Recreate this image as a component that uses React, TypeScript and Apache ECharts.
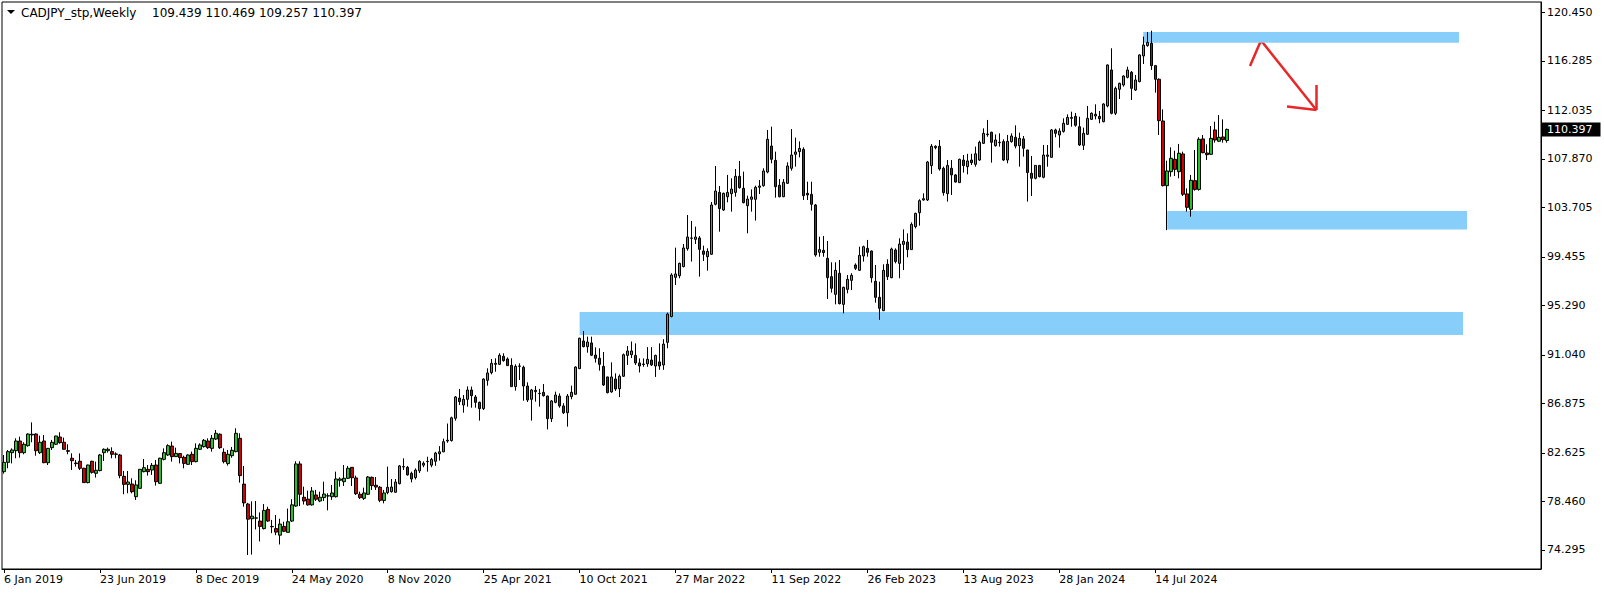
import React, { useEffect, useRef } from "react";
import * as echarts from "echarts";

// ---- chart data -------------------------------------------------------
const SYMBOL_TITLE = "CADJPY_stp,Weekly";
const TITLE_VALUES = "109.439 110.469 109.257 110.397";
const FIRST_WEEK_UTC = Date.UTC(2019, 0, 6);
const FUTURE_WEEKS = 78; // empty "chart shift" area on the right
const X_LABEL_EVERY = 24;
const MONTHS = ["Jan", "Feb", "Mar", "Apr", "May", "Jun", "Jul", "Aug", "Sep", "Oct", "Nov", "Dec"];
const Y_TICKS = [74.295, 78.46, 82.625, 86.875, 91.04, 95.29, 99.455, 103.705, 107.87, 112.035, 116.285, 120.45];
const Y_MIN = 72.664;
const Y_MAX = 121.334;

// weekly candles: [open, high, low, close]
const OHLC: number[][] = [
  [81.02, 82.45, 80.85, 81.82], [81.82, 82.88, 81.31, 82.74], [82.65, 83.02, 81.73, 82.88], [82.82, 83.88, 82.17, 83.65],
  [83.65, 84.02, 82.22, 82.65], [82.65, 83.54, 82.51, 83.37], [83.25, 84.31, 83.17, 84.25], [84.17, 85.25, 83.54, 84.23],
  [84.25, 84.31, 82.39, 82.82], [82.65, 84.11, 82.54, 83.54], [83.65, 84.17, 81.75, 81.79], [81.79, 83.05, 81.59, 83.02],
  [83.08, 83.74, 82.88, 83.54], [83.37, 84.10, 83.31, 84.08], [83.99, 84.40, 83.42, 83.51], [83.54, 83.94, 82.91, 82.94],
  [82.82, 83.37, 82.51, 82.77], [82.17, 82.59, 81.16, 81.96], [81.71, 82.02, 81.45, 81.76], [81.91, 82.59, 81.16, 81.31],
  [81.31, 81.35, 80.05, 80.08], [80.08, 81.62, 80.02, 81.59], [81.91, 81.96, 80.85, 80.96], [80.88, 81.88, 80.51, 81.14],
  [81.11, 82.54, 81.05, 82.45], [82.65, 83.02, 81.94, 82.94], [82.82, 83.08, 82.65, 82.94], [82.74, 83.11, 82.17, 82.51],
  [82.54, 82.68, 82.17, 82.51], [82.45, 82.54, 80.45, 80.68], [80.62, 81.08, 79.08, 79.93], [79.93, 81.08, 79.16, 80.13],
  [79.96, 80.45, 79.16, 79.30], [78.87, 80.28, 78.59, 79.88], [79.59, 81.25, 79.53, 81.22], [81.02, 82.11, 80.96, 81.36],
  [81.22, 81.59, 80.68, 81.02], [81.16, 81.76, 80.74, 81.56], [81.59, 82.02, 79.82, 80.16], [80.02, 82.22, 79.99, 82.17],
  [82.08, 83.02, 81.99, 82.65], [82.45, 83.37, 82.37, 83.25], [83.22, 83.60, 81.88, 82.31], [82.31, 83.08, 82.28, 82.59],
  [82.57, 82.60, 81.73, 82.22], [82.25, 82.39, 81.31, 81.73], [81.65, 82.51, 81.59, 82.45], [82.51, 82.74, 81.59, 81.88],
  [81.88, 83.45, 81.82, 83.02], [82.94, 83.45, 82.88, 83.31], [83.17, 83.82, 83.08, 83.71], [83.65, 83.88, 82.97, 83.08],
  [83.02, 84.17, 82.74, 83.88], [83.82, 84.60, 83.74, 84.31], [84.23, 84.31, 82.97, 83.08], [82.68, 83.02, 81.73, 81.88],
  [81.71, 82.88, 81.54, 82.51], [82.39, 83.14, 82.22, 82.85], [82.74, 84.74, 82.68, 84.31], [83.88, 84.31, 80.08, 80.68],
  [79.95, 81.51, 78.01, 78.34], [78.24, 78.34, 73.86, 76.94], [76.98, 78.47, 73.90, 77.20], [77.03, 78.50, 76.06, 77.05],
  [76.78, 77.52, 75.03, 76.32], [76.13, 78.24, 76.06, 77.69], [77.78, 78.01, 76.72, 76.78], [76.29, 76.88, 75.74, 76.32],
  [76.13, 77.30, 75.57, 75.83], [75.57, 76.98, 74.77, 76.52], [76.32, 76.72, 75.83, 75.90], [75.81, 77.85, 75.80, 76.72],
  [76.78, 78.66, 76.70, 78.17], [78.07, 81.91, 78.00, 81.68], [81.68, 81.91, 78.07, 79.08], [78.82, 79.73, 78.20, 78.50],
  [78.66, 79.39, 78.10, 78.17], [78.17, 79.70, 78.10, 79.36], [79.02, 79.45, 78.50, 78.65], [78.50, 79.30, 78.40, 78.82],
  [78.79, 80.16, 78.50, 79.10], [78.93, 79.16, 77.70, 78.95], [78.87, 79.88, 78.60, 79.19], [78.87, 81.02, 78.80, 80.39],
  [80.28, 80.53, 79.73, 80.39], [80.16, 81.59, 79.79, 80.45], [80.45, 81.51, 80.39, 81.31], [81.39, 81.42, 79.79, 80.50],
  [80.48, 80.68, 79.02, 79.13], [79.08, 79.30, 78.67, 78.79], [78.73, 79.65, 78.59, 79.19], [79.08, 80.65, 79.02, 80.56],
  [80.53, 80.60, 79.45, 79.82], [79.85, 80.56, 79.45, 79.70], [79.68, 79.79, 78.40, 78.56], [78.55, 79.45, 78.30, 79.19],
  [79.22, 81.45, 79.08, 79.68], [79.30, 80.39, 79.22, 79.70], [79.25, 80.39, 79.22, 80.13], [79.99, 81.59, 79.93, 81.51],
  [81.45, 82.16, 81.16, 81.42], [81.39, 81.51, 80.68, 80.74], [80.88, 81.02, 80.10, 80.39], [80.51, 81.30, 80.35, 81.16],
  [81.09, 82.00, 80.90, 81.91], [81.58, 81.90, 81.40, 81.74], [81.88, 82.30, 81.02, 81.91], [81.58, 82.20, 81.40, 82.07],
  [81.91, 82.72, 81.52, 82.62], [82.56, 83.21, 81.97, 82.72], [82.72, 83.85, 82.70, 83.59], [83.65, 85.15, 83.50, 83.72],
  [83.69, 85.74, 83.60, 85.64], [85.60, 87.51, 85.40, 87.43], [87.34, 88.12, 86.74, 87.03], [86.74, 87.60, 86.08, 87.23],
  [87.23, 88.34, 86.60, 88.03], [88.03, 88.32, 86.51, 87.54], [87.43, 87.60, 86.51, 86.97], [86.97, 87.03, 85.40, 86.43],
  [86.43, 89.03, 86.31, 88.97], [88.86, 89.89, 88.40, 89.49], [89.52, 90.69, 89.37, 90.32], [90.23, 90.75, 89.60, 90.32],
  [90.23, 91.18, 90.18, 91.01], [90.92, 91.18, 90.46, 90.55], [90.69, 90.83, 90.09, 90.12], [90.15, 90.75, 88.30, 88.32],
  [88.32, 90.23, 87.97, 90.06], [90.06, 90.32, 88.89, 90.09], [89.98, 90.12, 87.11, 88.37], [88.37, 88.69, 87.00, 87.17],
  [87.23, 88.12, 85.40, 88.03], [87.89, 88.37, 87.03, 88.00], [87.74, 88.12, 86.60, 87.72], [87.83, 88.54, 87.46, 87.54],
  [87.51, 87.55, 84.65, 85.57], [85.57, 87.17, 85.28, 87.09], [86.97, 87.89, 86.89, 87.60], [87.51, 87.74, 86.51, 86.66],
  [86.66, 86.89, 85.97, 86.08], [86.08, 87.69, 84.88, 87.51], [87.46, 88.40, 87.23, 87.83], [87.66, 90.06, 87.63, 90.00],
  [89.86, 92.52, 89.83, 92.47], [92.24, 93.09, 91.69, 91.75], [91.75, 92.61, 91.23, 92.15], [92.07, 92.61, 90.95, 91.01],
  [91.03, 91.69, 90.38, 90.75], [90.75, 91.61, 89.69, 90.23], [90.06, 91.29, 88.37, 88.46], [89.15, 89.17, 87.74, 87.80],
  [87.86, 90.40, 87.80, 89.15], [88.97, 89.46, 87.95, 88.12], [88.14, 89.37, 87.42, 89.21], [89.21, 91.16, 89.15, 91.06],
  [91.00, 91.80, 90.18, 91.38], [91.06, 92.19, 90.77, 91.38], [91.00, 92.03, 90.18, 90.35], [90.35, 90.74, 89.53, 90.09],
  [90.26, 90.74, 90.02, 90.22], [90.28, 91.71, 90.02, 90.67], [90.60, 91.71, 90.09, 90.18], [90.09, 91.06, 89.15, 91.00],
  [90.44, 92.03, 89.76, 90.09], [90.18, 92.39, 89.76, 91.97], [92.12, 94.67, 91.61, 94.55], [94.33, 98.05, 94.27, 97.90],
  [97.70, 100.25, 97.04, 97.99], [97.84, 98.96, 97.62, 98.90], [98.62, 100.56, 98.56, 100.22], [100.16, 103.05, 99.99, 101.16],
  [101.05, 102.54, 99.05, 101.08], [100.96, 102.05, 100.56, 101.16], [101.08, 101.25, 97.76, 100.10], [99.96, 100.42, 99.10, 99.68],
  [99.47, 100.19, 98.27, 99.93], [99.68, 104.17, 99.62, 103.91], [103.97, 107.26, 103.88, 105.11], [104.99, 105.54, 101.62, 103.60],
  [103.48, 104.97, 103.40, 104.91], [104.62, 106.49, 104.14, 104.99], [104.88, 106.20, 103.34, 105.28], [104.99, 107.00, 104.62, 106.37],
  [106.37, 107.69, 105.31, 105.40], [105.34, 106.77, 104.05, 104.11], [103.85, 104.71, 101.48, 104.42], [104.40, 105.25, 103.34, 104.60],
  [104.40, 105.57, 102.57, 105.43], [105.43, 106.06, 104.85, 105.54], [105.57, 107.06, 105.48, 106.83], [106.74, 110.35, 106.63, 109.55],
  [108.97, 110.63, 107.49, 107.83], [107.74, 108.49, 104.54, 105.48], [105.60, 106.14, 104.57, 104.62], [104.62, 106.14, 104.58, 105.86],
  [105.77, 107.57, 105.71, 107.26], [107.06, 110.43, 106.86, 108.20], [108.26, 109.69, 107.20, 108.46], [108.49, 109.37, 108.00, 108.77],
  [108.69, 108.86, 104.34, 104.71], [104.91, 105.91, 104.34, 104.77], [104.82, 105.91, 103.42, 103.97], [103.91, 104.00, 99.47, 99.62],
  [99.85, 101.19, 99.47, 100.08], [100.02, 101.25, 99.47, 99.82], [99.33, 100.82, 95.84, 97.67], [97.76, 98.99, 96.39, 96.76],
  [96.24, 98.99, 95.38, 98.30], [98.05, 99.19, 95.38, 95.44], [95.38, 96.90, 94.61, 96.84], [96.67, 97.90, 96.33, 97.53],
  [97.44, 98.05, 96.61, 97.87], [98.76, 98.90, 98.33, 98.47], [98.30, 100.33, 98.27, 99.59], [99.53, 100.42, 99.05, 100.33],
  [100.19, 100.91, 99.47, 99.85], [99.96, 100.00, 97.24, 97.67], [97.36, 98.76, 95.53, 95.98], [95.98, 97.33, 94.05, 95.04],
  [94.84, 98.82, 94.80, 98.30], [98.82, 99.25, 97.47, 97.76], [97.67, 100.25, 97.62, 100.13], [100.05, 100.19, 98.90, 99.05],
  [98.90, 101.05, 97.62, 100.56], [100.53, 101.82, 98.33, 100.79], [100.73, 101.48, 99.42, 100.08], [100.08, 102.42, 100.05, 102.25],
  [102.05, 103.25, 101.91, 103.19], [103.25, 104.40, 102.14, 104.28], [104.34, 104.91, 104.28, 104.45], [104.34, 107.69, 104.25, 107.60],
  [107.29, 109.14, 106.57, 108.95], [108.83, 109.03, 108.69, 108.95], [108.95, 109.49, 106.86, 107.00], [107.06, 107.20, 104.71, 104.97],
  [104.88, 107.77, 104.20, 107.31], [107.06, 107.77, 104.77, 106.49], [106.49, 106.57, 105.83, 105.88], [105.83, 107.89, 105.80, 107.83],
  [107.77, 108.20, 106.69, 107.29], [107.20, 108.30, 106.54, 107.69], [107.77, 108.30, 107.34, 107.54], [107.40, 108.92, 107.20, 108.30],
  [107.77, 109.43, 107.69, 109.29], [109.20, 110.49, 109.14, 110.06], [109.95, 111.21, 109.77, 110.00], [110.15, 110.20, 107.54, 109.29],
  [109.00, 109.97, 108.92, 109.49], [109.29, 110.06, 108.92, 109.26], [109.35, 109.55, 107.69, 107.77], [107.77, 109.92, 107.49, 109.37],
  [109.35, 110.06, 109.26, 109.83], [109.72, 110.75, 108.77, 108.97], [109.00, 110.12, 107.20, 109.63], [109.58, 109.83, 108.06, 108.78],
  [108.63, 108.65, 104.20, 106.69], [106.63, 108.12, 104.68, 106.20], [106.20, 107.33, 106.11, 107.31], [107.31, 107.33, 106.29, 106.34],
  [106.29, 109.06, 106.20, 108.20], [108.09, 109.06, 107.20, 108.20], [108.00, 110.43, 107.98, 110.35], [110.35, 110.46, 109.72, 110.06],
  [109.92, 110.49, 108.83, 110.26], [110.23, 111.35, 110.12, 110.92], [110.83, 111.69, 110.78, 111.43], [111.35, 111.92, 110.63, 111.43],
  [111.52, 111.81, 110.63, 110.75], [110.63, 111.49, 108.97, 109.06], [109.03, 110.55, 108.63, 110.06], [109.98, 112.41, 109.92, 111.35],
  [111.26, 111.86, 111.21, 111.78], [111.55, 112.55, 111.26, 111.69], [111.52, 111.98, 110.92, 111.32], [111.06, 112.64, 111.01, 112.58],
  [112.41, 115.98, 112.29, 115.93], [115.50, 117.36, 111.69, 111.78], [111.78, 114.07, 111.63, 113.92], [113.84, 114.41, 113.01, 114.35],
  [114.21, 115.04, 114.07, 114.98], [114.87, 115.78, 114.78, 115.50], [115.30, 115.41, 112.92, 113.92], [113.78, 115.07, 113.70, 114.64],
  [114.50, 116.84, 114.44, 116.79], [116.70, 118.36, 116.01, 117.64], [117.59, 118.76, 117.50, 117.87], [117.79, 118.87, 115.50, 115.87],
  [115.87, 115.93, 113.55, 114.70], [114.70, 114.78, 109.92, 111.15], [111.12, 112.12, 105.50, 105.57], [105.57, 107.71, 101.75, 106.83],
  [106.77, 108.86, 106.34, 107.92], [107.83, 108.57, 106.40, 106.97], [106.77, 109.15, 106.20, 108.35], [108.29, 108.49, 104.68, 104.83],
  [104.86, 105.34, 103.34, 103.71], [103.54, 106.49, 102.91, 106.03], [106.00, 108.63, 105.14, 105.25], [105.25, 109.72, 105.14, 109.55],
  [109.58, 109.92, 108.35, 108.40], [108.37, 109.12, 107.77, 108.23], [108.26, 110.69, 108.20, 109.63], [110.35, 111.06, 109.26, 109.49],
  [109.38, 111.63, 109.35, 109.72], [109.75, 111.26, 109.26, 109.52], [109.439, 110.469, 109.257, 110.397],
];

// support / resistance zones: [fromWeek, toWeek, low, high]
const ZONES: number[][] = [
  [285, 364, 117.84, 118.76],
  [291, 366, 101.81, 103.39],
  [144, 365, 92.75, 94.72],
];

// ---- styles ----------------------------------------------------------
const FONT = "DejaVu Sans";
const BULL = "#22c322";
const BEAR = "#d00000";
const ZONE_COLOR = "#87CEFA";
const ARROW_COLOR = "#e62828";

function weekLabel(i: number): string {
  const d = new Date(FIRST_WEEK_UTC + i * 7 * 86400000);
  return `${d.getUTCDate()} ${MONTHS[d.getUTCMonth()]} ${d.getUTCFullYear()}`;
}

export default function App() {
  const ref = useRef<HTMLDivElement>(null);

  useEffect(() => {
    if (!ref.current) return;
    const chart = echarts.init(ref.current, undefined, { renderer: "svg" });

    const n = OHLC.length;
    const cats: string[] = [];
    for (let i = 0; i < n + FUTURE_WEEKS; i++) cats.push(weekLabel(i));
    const candleData = OHLC.map(([o, h, l, c]) => [o, c, Math.min(l, o, c), Math.max(h, o, c)]);
    const showTick = (i: number) => i % X_LABEL_EVERY === 0 && i < n;

    chart.setOption({
      animation: false,
      backgroundColor: "#ffffff",
      grid: {
        left: 2,
        right: 63,
        top: 2,
        bottom: 24,
        show: true,
        borderColor: "#000",
        borderWidth: 1,
        backgroundColor: "#fff",
      },
      xAxis: {
        type: "category",
        data: cats,
        boundaryGap: true,
        axisLine: { show: true, lineStyle: { color: "#000", width: 1 } },
        axisTick: {
          show: true,
          interval: showTick,
          alignWithLabel: true,
          length: 4,
          lineStyle: { color: "#000" },
        },
        axisLabel: {
          interval: showTick,
          align: "left",
          margin: 5,
          color: "#000",
          fontFamily: FONT,
          fontSize: 11,
        },
        splitLine: { show: false },
      },
      yAxis: {
        type: "value",
        position: "right",
        min: Y_MIN,
        max: Y_MAX,
        axisLine: { show: true, lineStyle: { color: "#000", width: 1 } },
        axisTick: { show: true, length: 4, customValues: Y_TICKS, lineStyle: { color: "#000" } },
        axisLabel: {
          customValues: Y_TICKS,
          formatter: (v: number) => v.toFixed(3),
          margin: 6,
          color: "#000",
          fontFamily: FONT,
          fontSize: 11,
        },
        splitLine: { show: false },
      },
      series: [
        {
          type: "candlestick",
          data: candleData,
          barWidth: 3,
          z: 3,
          itemStyle: {
            color: BULL,
            color0: BEAR,
            borderColor: "#000",
            borderColor0: "#000",
            borderWidth: 1,
          },
          markArea: {
            silent: true,
            z: 1,
            itemStyle: { color: ZONE_COLOR, opacity: 1, borderWidth: 0 },
            label: { show: false },
            data: ZONES.map(([a, b, lo, hi]) => [
              { xAxis: a, yAxis: hi },
              { xAxis: b, yAxis: lo },
            ]),
          },
        },
      ],
    });

    const last = OHLC[n - 1][3];
    const yLast = chart.convertToPixel({ yAxisIndex: 0 }, last) as number;

    chart.setOption({
      graphic: [
        {
          type: "polygon",
          shape: { points: [[7, 10], [15, 10], [11, 14]] },
          style: { fill: "#000" },
        },
        {
          type: "text",
          x: 21,
          y: 12.5,
          style: { text: SYMBOL_TITLE, fill: "#000", font: `12px '${FONT}'`, verticalAlign: "middle" },
        },
        {
          type: "text",
          x: 152,
          y: 12.5,
          style: { text: TITLE_VALUES, fill: "#000", font: `12px '${FONT}'`, verticalAlign: "middle" },
        },
        {
          type: "rect",
          shape: { x: 1541.5, y: yLast - 7, width: 59, height: 14 },
          style: { fill: "#000" },
        },
        {
          type: "text",
          x: 1547,
          y: yLast,
          style: { text: last.toFixed(3), fill: "#fff", font: `11px '${FONT}'`, verticalAlign: "middle" },
        },
        {
          type: "polyline",
          shape: { points: [[1250, 66], [1261, 40.5], [1316, 109.5]] },
          style: { stroke: ARROW_COLOR, lineWidth: 2.5, fill: "none" },
        },
        {
          type: "polyline",
          shape: { points: [[1316.5, 85], [1316.5, 110]] },
          style: { stroke: ARROW_COLOR, lineWidth: 2.5, fill: "none" },
        },
        {
          type: "polyline",
          shape: { points: [[1287, 106.5], [1316.5, 110]] },
          style: { stroke: ARROW_COLOR, lineWidth: 2.5, fill: "none" },
        },
      ],
    });

    return () => chart.dispose();
  }, []);

  return (
    <div
      ref={ref}
      style={{ position: "fixed", left: 0, top: 0, width: 1604, height: 593, background: "#fff" }}
    />
  );
}
